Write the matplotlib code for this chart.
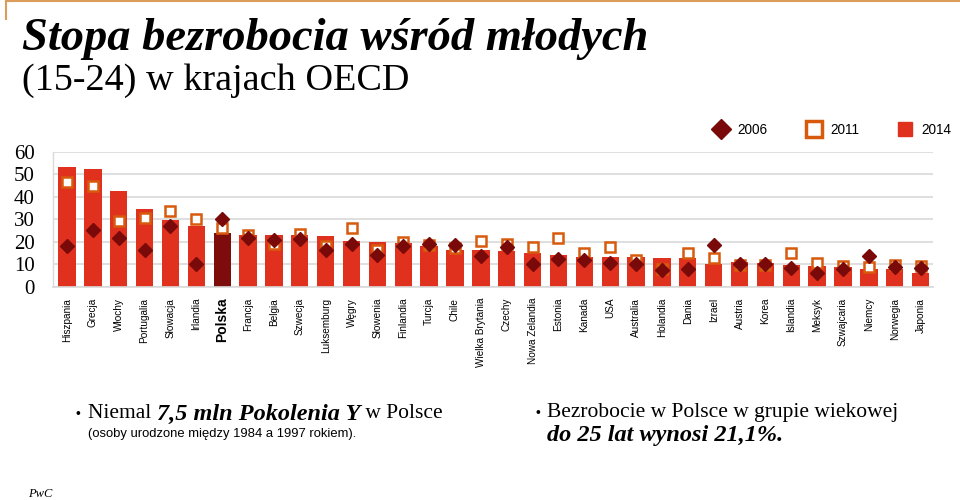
import numpy as np
import matplotlib
matplotlib.use('Agg')
import matplotlib.pyplot as plt
from matplotlib.lines import Line2D

# ================= dane =================
countries = ['Hiszpania', 'Grecja', 'Włochy', 'Portugalia', 'Słowacja', 'Irlandia',
             'Polska', 'Francja', 'Belgia', 'Szwecja', 'Luksemburg', 'Węgry',
             'Słowenia', 'Finlandia', 'Turcja', 'Chile', 'Wielka Brytania', 'Czechy',
             'Nowa Zelandia', 'Estonia', 'Kanada', 'USA', 'Australia', 'Holandia',
             'Dania', 'Izrael', 'Austria', 'Korea', 'Islandia', 'Meksyk',
             'Szwajcaria', 'Niemcy', 'Norwegia', 'Japonia']

rate_2014 = [53.3, 52.4, 42.7, 34.7, 29.6, 26.8, 23.7, 23.1, 23.1, 22.8, 22.6, 20.4,
             20.0, 19.4, 17.9, 16.3, 16.2, 15.7, 14.8, 14.2, 13.3, 13.3, 13.3, 12.6,
             12.6, 10.3, 10.8, 10.5, 9.6, 9.4, 8.6, 7.8, 7.8, 6.2]

rate_2011 = [46.4, 44.9, 29.3, 30.4, 33.6, 30.1, 25.9, 23.1, 18.8, 23.4, 18.0, 26.1,
             16.5, 20.0, 18.5, 17.2, 20.2, 19.1, 17.8, 21.8, 15.0, 17.5, 12.0, 7.8,
             14.8, 12.6, 9.5, 9.8, 14.8, 10.4, 9.4, 8.9, 9.6, 9.2]

rate_2006 = [18.1, 25.0, 21.8, 16.5, 26.8, 9.9, 29.9, 21.5, 20.7, 21.0, 16.2, 19.2,
             14.0, 18.0, 19.2, 18.4, 13.8, 17.8, 10.1, 12.2, 11.9, 10.4, 10.1, 7.4,
             7.7, 18.5, 10.0, 10.2, 8.4, 6.2, 7.9, 13.6, 8.9, 8.1]

y_ticks = [0, 10, 20, 30, 40, 50, 60]
highlight = 'Polska'

# kolory
RED = '#e0301e'
DARK_RED = '#7d0c0c'
DIAMOND = '#7a0a0a'
ORANGE = '#d85a0c'
GRID = '#d9d9d9'

SERIF = 'Liberation Serif'
SANS = 'Liberation Sans'

W, H = 960, 500
fig = plt.figure(figsize=(W / 100, H / 100), dpi=100)
fig.patch.set_facecolor('white')


def fx(px):
    return px / W


def fy(py):
    return 1 - py / H


# ================= wykres =================
ax = fig.add_axes([fx(53), fy(286.7), fx(933) - fx(53), fy(151.7) - fy(286.7)])

x = np.arange(len(countries))
bar_colors = [DARK_RED if c == highlight else RED for c in countries]
ax.bar(x, rate_2014, width=0.67, color=bar_colors, zorder=2)
ax.plot(x, rate_2011, linestyle='none', marker='s', markersize=7.5,
        markerfacecolor='white', markeredgecolor=ORANGE, markeredgewidth=1.8, zorder=3)
ax.plot(x, rate_2006, linestyle='none', marker='D', markersize=7,
        color=DIAMOND, zorder=4)

ax.set_xlim(-0.54, len(countries) - 1 + 0.48)
ax.set_ylim(0, 60)
ax.set_yticks(y_ticks)
ax.set_yticklabels([str(v) for v in y_ticks], fontfamily=SERIF, fontsize=15)
ax.tick_params(axis='y', length=0, pad=13)
ax.yaxis.grid(True, color=GRID, linewidth=1.2, zorder=0)
ax.set_axisbelow(True)

ax.set_xticks(x)
ax.set_xticklabels(countries, rotation=90, fontfamily=SANS, fontsize=7.2, va='top')
ax.tick_params(axis='x', length=0, pad=8)
for lab in ax.get_xticklabels():
    if lab.get_text() == highlight:
        lab.set_fontweight('bold')
        lab.set_fontsize(10)

for side in ['top', 'right']:
    ax.spines[side].set_visible(False)
ax.spines['left'].set_color(GRID)
ax.spines['bottom'].set_color(GRID)
ax.spines['left'].set_linewidth(1.0)
ax.spines['bottom'].set_linewidth(1.2)

# legenda
handles = [
    Line2D([], [], linestyle='none', marker='D', markersize=10, color=DIAMOND),
    Line2D([], [], linestyle='none', marker='s', markersize=11, markerfacecolor='white',
           markeredgecolor=ORANGE, markeredgewidth=2.5),
    Line2D([], [], linestyle='none', marker='s', markersize=10.5, color=RED),
]
fig.legend(handles, ['2006', '2011', '2014'], loc='center right',
           bbox_to_anchor=(fx(964), fy(130)), ncol=3, frameon=False,
           prop={'family': SANS, 'size': 9.8}, handlelength=1.2,
           handletextpad=0.6, columnspacing=2.8)

# ================= teksty =================
renderer = fig.canvas.get_renderer()


def rich_text(x_px, y_px, parts):
    # kolejne fragmenty tekstu w jednej linii, różne style
    cur = x_px
    for txt, kw in parts:
        t = fig.text(fx(cur), fy(y_px), txt, va='center', ha='left', **kw)
        cur += t.get_window_extent(renderer).width


fig.text(fx(22), fy(39), 'Stopa bezrobocia wśród młodych', va='center',
         family=SERIF, fontsize=33.5, fontweight='bold', style='italic')
fig.text(fx(22), fy(81), '(15-24) w krajach OECD', va='center',
         family=SERIF, fontsize=27.5)

reg = dict(family=SERIF, fontsize=15.5)
bi = dict(family=SERIF, fontsize=17.5, fontweight='bold', style='italic')

fig.text(fx(75), fy(414), '•', va='center', family=SANS, fontsize=10)
rich_text(88, 414, [('Niemal ', reg), ('7,5 mln Pokolenia Y', bi), (' w Polsce', reg)])
fig.text(fx(88), fy(434), '(osoby urodzone między 1984 a 1997 rokiem).', va='center',
         family=SANS, fontsize=9.4)

fig.text(fx(535), fy(413), '•', va='center', family=SANS, fontsize=10)
fig.text(fx(547), fy(413), 'Bezrobocie w Polsce w grupie wiekowej', va='center', **reg)
fig.text(fx(547), fy(436), 'do 25 lat wynosi 21,1%.', va='center', **bi)

fig.text(fx(28), fy(494), 'PwC', va='center', family=SERIF, style='italic', fontsize=9)

# pomarańczowa ramka slajdu u góry
fig.add_artist(Line2D([fx(6), fx(960)], [fy(1), fy(1)], color='#dc9c5a', linewidth=1.5))
fig.add_artist(Line2D([fx(6), fx(6)], [fy(1), fy(19)], color='#dc9c5a', linewidth=1.5))

fig.savefig('out.png', dpi=100, facecolor='white')
